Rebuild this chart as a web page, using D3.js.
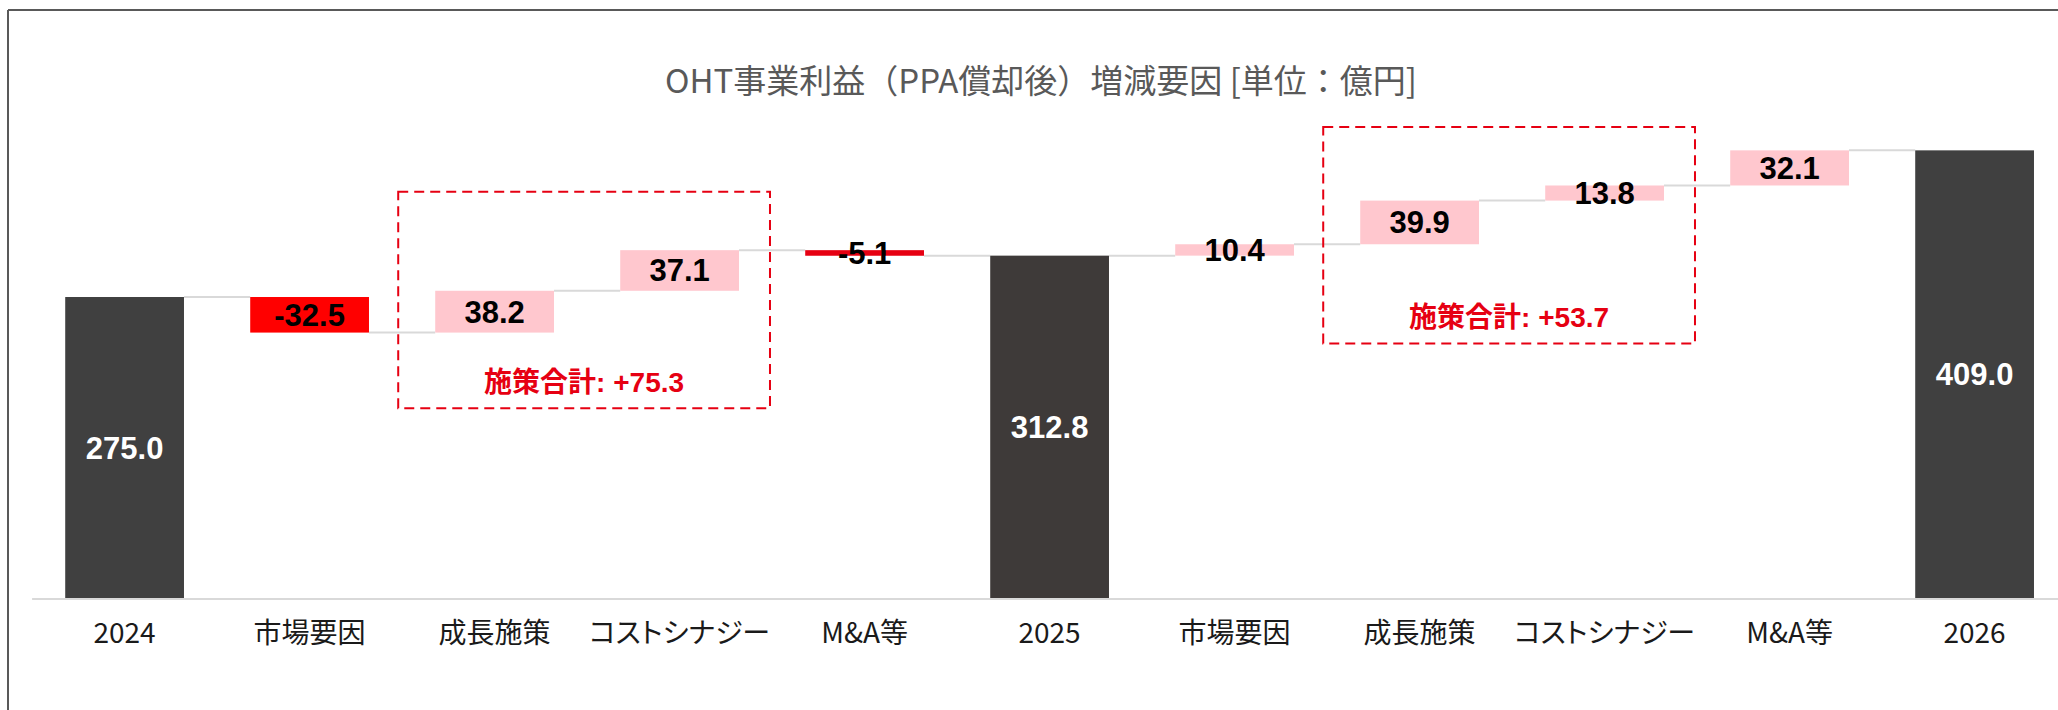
<!DOCTYPE html>
<html>
<head>
<meta charset="utf-8">
<script src="https://cdn.jsdelivr.net/npm/d3@7/dist/d3.min.js"></script>
<style>
  html, body { margin: 0; padding: 0; background: #ffffff; }
  svg { display: block; }
  .cat { font-feature-settings: "palt"; }
</style>
</head>
<body>
<svg id="chart" width="2058" height="710"></svg>
<script>
// ---- data ----
const categories = ["2024", "市場要因", "成長施策", "コストシナジー", "M&A等", "2025", "市場要因", "成長施策", "コストシナジー", "M&A等", "2026"];
const values = [275.0, -32.5, 38.2, 37.1, -5.1, 312.8, 10.4, 39.9, 13.8, 32.1, 409.0];
const kinds = ["total", "delta", "delta", "delta", "delta", "total", "delta", "delta", "delta", "delta", "total"];
const title = "OHT事業利益（PPA償却後）増減要因 [単位：億円]";
const groupLabel = "施策合計";
const groups = [[2, 3], [7, 8]];   // indices of 施策 bars grouped by dashed box

// ---- styles ----
const barColors = ["#404040", "#FF0000", "#FFC7CE", "#FFC7CE", "#E60012", "#3E3A39", "#FFC7CE", "#FFC7CE", "#FFC7CE", "#FFC7CE", "#404040"];
const W = 2058, H = 710;
const svg = d3.select("#chart");
const fmt = v => v.toFixed(1);

const idx = d3.range(categories.length);
const x = d3.scaleBand().domain(idx).range([32.1, 2067.1]).paddingInner(0.358).paddingOuter(0.179);
const y = d3.scaleLinear().domain([0, 450]).range([598, 598 - 450 * 1.0945]);

// waterfall geometry
let level = 0;
const bars = idx.map(i => {
  const v = values[i];
  let lo, hi, end;
  if (kinds[i] === "total") { lo = 0; hi = v; end = v; }
  else { const s = level; end = s + v; lo = Math.min(s, end); hi = Math.max(s, end); }
  level = end;
  return { i, v, lo, hi, end, kind: kinds[i] };
});

// outer frame (top & left edges visible)
svg.append("line").attr("x1", 8).attr("x2", W).attr("y1", 10).attr("y2", 10)
  .attr("stroke", "#595959").attr("stroke-width", 2);
svg.append("line").attr("x1", 8).attr("x2", 8).attr("y1", 10).attr("y2", H)
  .attr("stroke", "#595959").attr("stroke-width", 2);

// title
svg.append("text").attr("x", 1041).attr("y", 93).attr("text-anchor", "middle")
  .attr("font-family", "'Noto Sans CJK JP', sans-serif").attr("font-size", 33)
  .attr("fill", "#595959").text(title);

// baseline axis
svg.append("line").attr("x1", x.range()[0]).attr("x2", W).attr("y1", y(0) + 1).attr("y2", y(0) + 1)
  .attr("stroke", "#d9d9d9").attr("stroke-width", 2);

// connectors
for (let k = 0; k < bars.length - 1; k++) {
  const b = bars[k];
  svg.append("line")
    .attr("x1", x(b.i) + x.bandwidth()).attr("x2", x(b.i + 1))
    .attr("y1", y(b.end)).attr("y2", y(b.end))
    .attr("stroke", "#d9d9d9").attr("stroke-width", 2);
}

// bars
svg.append("g").selectAll("rect").data(bars).join("rect")
  .attr("x", d => x(d.i)).attr("width", x.bandwidth())
  .attr("y", d => y(d.hi)).attr("height", d => y(d.lo) - y(d.hi))
  .attr("fill", d => barColors[d.i]);

// dashed boxes + sum labels
groups.forEach(g => {
  const top = y(d3.max(g, i => bars[i].end)) - 58.5;
  const bottom = top + 216.5;
  const left = x(g[0]) - 37;
  const right = x(g[g.length - 1]) + x.bandwidth() + 31;
  svg.append("rect").attr("x", left).attr("y", top).attr("width", right - left).attr("height", bottom - top)
    .attr("fill", "none").attr("stroke", "#E60012").attr("stroke-width", 2).attr("stroke-dasharray", "10,6");
  const sum = d3.sum(g, i => values[i]);
  svg.append("text").attr("x", (left + right) / 2).attr("y", bottom - 16).attr("text-anchor", "middle")
    .attr("font-family", "'Liberation Sans', 'Noto Sans CJK JP', sans-serif").attr("font-weight", "bold")
    .attr("font-size", 28).attr("fill", "#E60012")
    .text(groupLabel + ": +" + fmt(sum));
});

// value labels
svg.append("g").selectAll("text").data(bars).join("text")
  .attr("x", d => x(d.i) + x.bandwidth() / 2)
  .attr("y", d => (y(d.lo) + y(d.hi)) / 2 + 11)
  .attr("text-anchor", "middle")
  .attr("font-family", "'Liberation Sans', Arial, sans-serif").attr("font-weight", "bold")
  .attr("font-size", 31)
  .attr("fill", d => d.kind === "total" ? "#ffffff" : "#000000")
  .text(d => fmt(d.v));

// category labels
svg.append("g").selectAll("text").data(idx).join("text")
  .attr("class", "cat")
  .attr("x", i => x(i) + x.bandwidth() / 2).attr("y", 643)
  .attr("text-anchor", "middle")
  .attr("font-family", "'Noto Sans CJK JP', sans-serif").attr("font-size", 28)
  .attr("fill", "#1a1a1a")
  .text(i => categories[i]);
</script>
</body>
</html>
